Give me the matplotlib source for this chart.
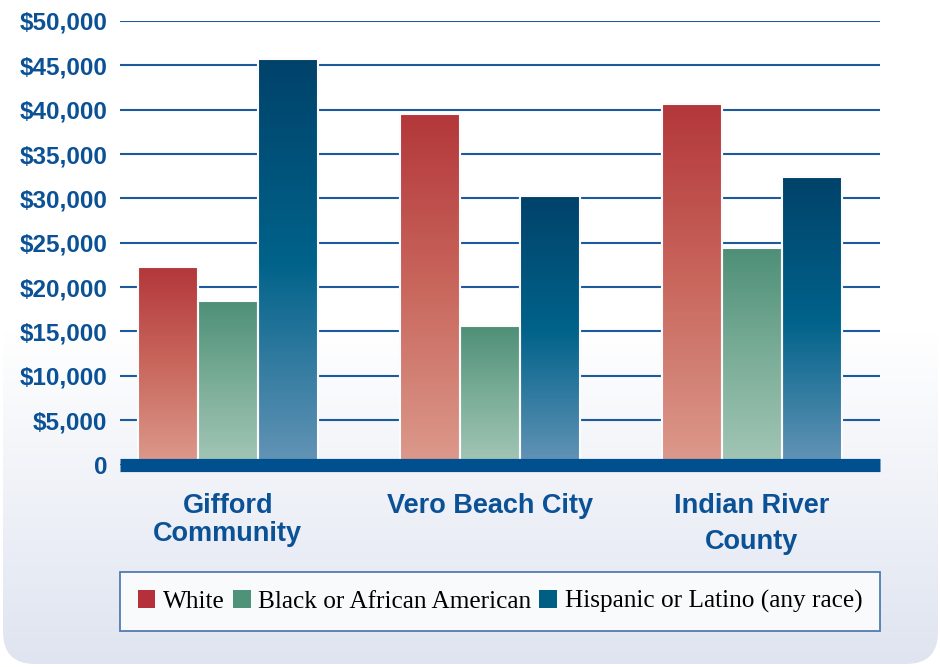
import numpy as np
import matplotlib
matplotlib.use("Agg")
import matplotlib.pyplot as plt
from matplotlib.colors import LinearSegmentedColormap
from matplotlib.patches import FancyBboxPatch, Rectangle

# data
places = ["Gifford\nCommunity", "Vero Beach City", "Indian River\nCounty"]
groups = ["White", "Black or African American", "Hispanic or Latino (any race)"]
white = [22300, 39500, 40600]
black = [18400, 15600, 24400]
hispanic = [45700, 30300, 32400]
yticks = [0, 5000, 10000, 15000, 20000, 25000, 30000, 35000, 40000, 45000, 50000]

blue = "#0b5196"
legend_cols = ["#b5303a", "#4e927a", "#005e85"]
# top -> bottom gradients for each series
grads = [
    ["#b3373a", "#c9675d", "#dc9a8c"],
    ["#4e8f77", "#7aad98", "#a3c6b6"],
    ["#00426a", "#00628a", "#6494b6"],
]

fig = plt.figure(figsize=(9.4, 6.67), dpi=100)

# background panel with vertical gradient
bg = fig.add_axes([0, 0, 1, 1], zorder=-10)
bg.set_xlim(0, 940)
bg.set_ylim(667, 0)
bg.axis("off")
panel = FancyBboxPatch((3, -40), 935, 704, boxstyle="round,pad=0,rounding_size=32",
                       facecolor="none", edgecolor="none")
bg.add_patch(panel)
grad_bg = np.linspace(0, 1, 256).reshape(-1, 1)
cm_bg = LinearSegmentedColormap.from_list("bg", ["#ffffff", "#ffffff", "#dfe4f0"])
im = bg.imshow(grad_bg, cmap=cm_bg, extent=[3, 938, 664, 0], aspect="auto")
im.set_clip_path(panel)

ax = fig.add_axes([120 / 940, 1 - 464.5 / 667, 760 / 940, 443.5 / 667])
ax.set_facecolor("none")
x = np.arange(len(places))
w = 0.229
series = [white, black, hispanic]
for i, vals in enumerate(series):
    bars = ax.bar(x + (i - 1) * w, vals, w, color=legend_cols[i], edgecolor="white",
                  linewidth=1.5, zorder=2, label=groups[i])
    cm = LinearSegmentedColormap.from_list("g%d" % i, grads[i][::-1])
    for b in bars:
        x0, y0 = b.get_x(), b.get_y()
        im = ax.imshow(np.linspace(0, 1, 256).reshape(-1, 1), cmap=cm, origin="lower",
                       extent=[x0, x0 + b.get_width(), y0, y0 + b.get_height()],
                       aspect="auto", zorder=2.1)
        im.set_clip_path(b)
        edge = Rectangle((x0, y0), b.get_width(), b.get_height(), facecolor="none",
                         edgecolor="#fbfbfd", linewidth=1.5, zorder=2.2)
        ax.add_patch(edge)

ax.set_xlim(-0.412, 2.489)
ax.set_ylim(0, 50000)
ax.set_yticks(yticks)
ax.set_yticklabels(["0"] + ["${:,}".format(v) for v in yticks[1:]])
ax.yaxis.grid(True, color="#1c5a9c", linewidth=1.5, zorder=0)
ax.set_axisbelow(True)
ax.tick_params(axis="y", length=0, pad=9, labelsize=17.5, labelcolor=blue)
for lab in ax.get_yticklabels():
    lab.set_fontweight("bold")
    lab.set_family("Liberation Sans")
ax.set_xticks(x)
ax.set_xticklabels(places)
ax.tick_params(axis="x", length=0, pad=20.5, labelsize=19.5, labelcolor=blue)
spacing = [1.12, 1.12, 1.5]
for lab, ls in zip(ax.get_xticklabels(), spacing):
    lab.set_fontweight("bold")
    lab.set_family("Liberation Sans")
    lab.set_linespacing(ls)
for s in ax.spines.values():
    s.set_visible(False)
ax.axhline(0, color="#00508f", linewidth=9.5, zorder=3, clip_on=False,
           solid_capstyle="butt")

leg = fig.legend(loc="center", bbox_to_anchor=(120 / 940, 37 / 667, 760 / 940, 57 / 667),
                 mode="expand", ncol=3,
                 prop={"family": "Liberation Serif", "size": 18.2}, frameon=True,
                 fancybox=False, handlelength=0.7, handleheight=0.7, handletextpad=0.3,
                 columnspacing=0.5, borderpad=0.7, borderaxespad=0)
for h, c in zip(leg.legend_handles, legend_cols):
    h.set_facecolor(c)
    h.set_edgecolor("none")
fr = leg.get_frame()
fr.set_edgecolor("#2a5f9e")
fr.set_linewidth(1.3)
fr.set_facecolor("white")

fig.savefig("out.png", dpi=100)
